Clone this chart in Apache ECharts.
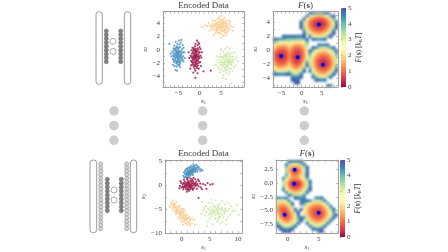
<!DOCTYPE html>
<html><head><meta charset="utf-8">
<style>html,body{margin:0;padding:0;background:#fff}#c{width:448px;height:252px;filter:blur(0.4px)}</style>
<script src="https://cdn.jsdelivr.net/npm/echarts@6/dist/echarts.min.js"></script>
</head><body><div id="c"></div>
<script>
const topBlue=[[-5.2,-0.9],[-5.0,-0.6],[-5.5,-1.2],[-4.8,-1.1],[-5.3,-0.4],[-5.7,-0.8],[-4.6,-0.7],[-5.1,-1.5],[-5.4,-0.1],[-4.9,-0.2],[-6.0,-1.1],[-4.4,-1.2],[-5.6,-1.7],[-5.0,-1.9],[-4.5,-0.3],[-6.1,-0.5],[-5.8,0.1],[-4.9,0.3],[-5.3,0.5],[-4.3,-1.6],[-6.3,-1.4],[-5.5,-2.1],[-4.7,-2.2],[-6.0,-1.9],[-4.2,-0.6],[-6.4,-0.3],[-5.2,0.9],[-4.7,0.8],[-5.9,0.6],[-4.1,0.1],[-3.9,-1.0],[-6.6,-1.0],[-5.4,-2.6],[-4.6,-2.7],[-5.7,-3.1],[-6.3,-2.3],[-3.8,-1.8],[-4.4,1.1],[-5.6,1.2],[-4.0,0.7],[-5.1,-1.1],[-5.3,-0.7],[-4.9,-0.9],[-5.6,-0.3],[-4.7,-1.4],[-5.2,-1.3],[-5.8,-1.5],[-4.4,-0.9],[-5.4,-1.8],[-6.2,-0.9],[-4.1,-1.3],[-3.6,-0.4],[-3.5,-1.3],[-6.8,-0.6],[-4.8,-2.4],[-5.1,-2.3],[-5.9,-2.5],[-5.0,0.1],[-5.5,0.3],[-6.1,0.2],[-4.6,0.4],[-3.8,0.3],[-4.3,1.5],[-4.9,1.4],[-7.1,0.9],[-5.3,-3.2],[-5.0,-0.3],[-5.4,-1.0],[-4.6,-1.8],[-6.0,-0.1],[-5.1,-0.5],[-4.8,-0.4],[-5.5,-0.6],[-4.5,-1.0],[-5.9,-0.7],[-5.2,-1.7],[-4.9,-1.6],[-5.7,-1.2],[-4.3,-0.2],[-5.6,0.0],[-5.1,0.3],[-4.6,-2.0],[-5.3,-2.0],[-6.1,-1.6],[-3.9,-0.4],[-4.0,-1.6]];
const topRed=[[-1.0,-1.2],[-0.8,-0.9],[-1.3,-1.5],[-0.7,-1.4],[-1.1,-0.7],[-1.5,-1.0],[-0.5,-1.1],[-0.9,-1.8],[-1.2,-0.3],[-0.7,-0.4],[-1.7,-1.3],[-0.3,-0.7],[-1.4,-2.0],[-0.8,-2.2],[-0.4,-1.7],[-1.8,-0.6],[-1.5,-0.1],[-0.9,0.1],[-0.5,0.2],[-0.1,-1.3],[-2.0,-1.7],[-1.1,-2.5],[-0.4,-2.4],[-1.7,-2.3],[0.0,-0.4],[-2.1,-0.9],[-1.1,0.5],[-0.5,0.7],[-1.7,0.3],[0.1,-1.9],[0.2,-0.9],[-2.4,-1.3],[-1.2,-2.9],[-0.6,-2.8],[-1.0,-3.2],[-2.0,-2.4],[0.4,-1.2],[-0.3,1.1],[-1.0,0.9],[0.2,0.1],[-1.1,-1.4],[-1.0,-0.9],[-0.6,-1.0],[-1.3,-0.6],[-0.8,-1.6],[-1.2,-1.1],[-1.6,-1.6],[-0.4,-1.0],[-1.0,-2.0],[-1.9,-1.1],[-0.2,-2.0],[0.0,0.4],[0.5,-0.4],[-2.6,-0.4],[-0.7,-2.6],[-1.4,-2.6],[-0.2,-2.9],[-0.9,-0.2],[-1.4,0.2],[-1.9,-0.1],[-0.3,0.0],[-0.6,1.4],[-0.1,0.9],[0.3,-2.5],[-1.5,-3.5],[2.6,-3.2],[0.9,-3.3],[-1.0,-4.3],[-0.5,-3.6],[-2.2,-2.9],[-0.9,-1.1],[-1.1,-1.0],[-0.7,-0.7],[-1.4,-0.9],[-0.6,-1.7],[-1.2,-1.8],[-1.5,-1.3],[-0.3,-1.4],[-0.9,-0.5],[-1.6,-0.4],[-0.2,-0.4],[-1.0,-2.4],[-0.6,-2.1],[-1.6,-2.0],[-1.3,-2.3],[-0.1,-1.0],[-1.0,-0.1],[-1.3,0.0],[-0.6,-0.2],[-1.8,-1.9]];
const topOrange=[[5.0,3.6],[5.3,3.8],[4.6,3.4],[5.6,3.4],[4.3,3.8],[4.9,4.0],[5.9,3.7],[4.0,3.3],[5.2,3.1],[5.7,4.1],[3.7,3.6],[6.2,3.3],[4.4,4.3],[5.0,4.5],[6.3,3.9],[3.5,3.9],[4.1,2.9],[5.5,2.8],[6.6,3.5],[3.2,3.4],[4.7,2.6],[6.0,2.9],[3.0,3.9],[6.9,3.9],[5.4,4.6],[4.2,4.7],[6.2,4.4],[3.6,4.4],[7.1,3.2],[2.8,3.1],[5.0,2.4],[3.7,2.6],[6.4,2.6],[2.5,3.7],[7.4,3.6],[4.6,5.0],[5.8,4.9],[3.4,2.2],[5.5,2.1],[1.8,3.6],[7.7,2.9],[1.2,3.7],[0.5,3.5],[6.8,4.5],[5.1,3.4],[4.8,3.2],[5.4,3.5],[4.5,3.7],[5.8,3.2],[4.2,3.4],[6.1,3.6],[3.9,3.0],[4.7,4.2],[5.6,4.3],[6.5,3.1],[3.4,3.1],[2.3,2.9],[2.1,4.1],[4.9,1.9],[6.1,2.2],[7.1,4.3],[3.0,4.5],[5.1,5.2],[3.9,4.0],[5.2,4.0],[4.4,2.5],[6.7,2.9],[7.9,3.5],[4.7,3.8],[5.5,3.9],[4.4,3.1],[5.1,2.9],[3.8,3.7],[5.8,3.0],[6.4,3.6],[4.1,4.1],[5.3,4.3],[3.3,3.7],[2.7,3.5],[5.9,2.6],[4.8,4.6],[6.0,4.1],[4.3,2.6]];
const topGreen=[[6.3,-1.9],[6.6,-1.6],[5.9,-2.2],[6.9,-2.1],[5.7,-1.5],[6.2,-1.2],[7.2,-1.6],[5.4,-2.0],[6.5,-2.5],[7.1,-1.0],[5.1,-1.6],[7.5,-2.3],[5.8,-0.8],[6.4,-0.6],[7.6,-1.2],[4.9,-1.2],[5.4,-2.7],[6.8,-2.9],[7.9,-1.9],[4.6,-2.0],[6.0,-3.1],[7.3,-2.9],[4.4,-1.5],[8.2,-1.5],[6.8,-0.4],[5.5,-0.3],[7.6,-0.5],[4.9,-0.7],[8.4,-2.4],[4.2,-2.6],[6.3,-3.5],[5.0,-3.0],[7.7,-3.3],[3.9,-1.8],[8.7,-1.2],[6.0,0.1],[7.1,0.2],[4.7,-3.5],[6.8,-3.8],[5.6,-3.9],[6.3,-1.5],[6.0,-1.8],[6.7,-2.3],[5.6,-2.4],[7.0,-1.3],[5.3,-1.1],[7.4,-1.9],[4.9,-2.4],[6.5,-1.0],[5.9,-1.0],[8.0,-2.7],[4.1,-1.0],[3.7,-2.3],[8.9,-1.8],[6.1,-4.5],[7.3,-5.2],[5.4,-4.3],[8.2,-0.4],[6.4,0.4],[5.0,0.0],[7.9,-1.0],[6.2,-2.7],[7.0,-3.4],[5.6,-3.3],[4.5,-2.9],[6.9,-1.9],[5.2,-2.3],[6.4,-3.1],[6.1,-2.4],[6.6,-2.0],[5.7,-1.9],[5.5,-1.2],[7.3,-2.2],[6.2,-0.8],[7.0,-0.7],[5.0,-1.9],[5.9,-2.8],[7.7,-1.6],[6.8,-1.7],[4.7,-1.1]];

const botBlue=[[1.5,2.8],[1.7,3.0],[1.2,2.5],[1.9,2.9],[1.3,2.9],[1.6,2.4],[2.0,3.3],[1.0,2.2],[1.4,3.3],[2.2,3.1],[0.9,2.6],[1.1,3.0],[1.8,3.5],[2.4,3.5],[0.8,2.0],[1.7,2.2],[2.1,2.7],[0.6,2.3],[2.5,3.0],[1.5,3.7],[2.0,3.9],[0.7,1.7],[1.2,1.9],[2.7,3.6],[2.9,3.2],[0.4,2.6],[2.3,4.0],[1.0,3.4],[0.5,1.6],[1.5,2.0],[2.8,3.9],[3.2,3.4],[0.9,1.5],[1.7,4.0],[3.5,3.2],[0.3,1.9],[1.4,2.7],[1.6,3.2],[1.8,2.7],[1.1,2.7],[2.2,3.7],[2.4,2.7],[1.3,2.2],[1.9,3.2],[0.7,2.9],[2.6,3.3],[3.0,3.7],[1.9,2.4],[2.3,3.3],[1.4,1.6],[3.7,3.0],[2.6,4.2],[2.1,4.3],[1.2,3.6],[0.6,3.0],[3.3,2.9],[2.0,2.1],[1.1,1.6],[0.8,3.3],[2.8,2.8],[1.6,2.6],[1.4,2.4],[1.8,3.1],[2.1,3.5],[1.0,2.5],[1.2,2.2],[2.0,3.0],[1.5,3.0],[0.9,2.3],[2.3,3.0]];
const botRed=[[1.3,0.0],[1.1,0.3],[1.6,-0.2],[0.9,-0.2],[1.8,0.3],[1.4,0.5],[0.7,0.2],[2.1,0.0],[1.0,-0.6],[1.7,-0.6],[0.5,-0.3],[2.3,0.4],[1.2,0.8],[0.6,0.7],[2.0,0.8],[0.2,0.1],[2.5,-0.2],[1.5,-0.9],[0.8,-0.9],[2.2,-0.6],[0.0,-0.5],[2.8,0.2],[1.9,1.1],[1.0,1.1],[-0.1,0.4],[2.6,0.7],[0.3,-0.9],[1.3,-1.2],[2.0,-1.0],[3.0,-0.3],[-0.3,-0.2],[0.4,1.1],[2.4,1.2],[1.6,1.3],[3.3,0.3],[-0.4,-0.7],[0.9,-1.4],[2.7,-0.8],[3.4,-0.5],[3.8,0.2],[4.2,0.0],[4.6,0.4],[5.1,0.1],[5.5,0.2],[3.1,0.8],[3.6,-0.9],[3.0,-2.7],[1.4,0.2],[1.2,-0.3],[0.8,0.1],[1.6,0.1],[1.9,-0.3],[0.6,-0.1],[1.1,0.6],[2.2,0.2],[1.5,-0.5],[0.3,0.4],[2.5,0.3],[1.7,0.7],[0.4,-0.5],[1.0,1.4],[-0.2,0.8],[2.9,1.1],[4.4,-0.8],[2.1,1.5],[1.0,0.0],[1.3,0.3],[0.7,-0.5],[1.8,-0.1],[1.4,-0.4],[0.9,0.4],[2.0,0.4],[1.2,-0.8],[0.5,0.3],[2.4,-0.1],[1.6,0.9],[0.2,-0.4],[2.7,0.0],[1.9,-0.8],[1.1,-1.0]];
const botOrange=[[0.0,-6.0],[-0.3,-5.6],[0.3,-6.4],[-0.5,-5.9],[0.4,-5.8],[-0.1,-6.6],[-0.7,-5.2],[0.7,-6.7],[-0.2,-5.1],[0.2,-7.0],[-1.0,-5.0],[0.9,-6.2],[-0.8,-5.8],[0.8,-7.3],[-1.2,-4.7],[-0.4,-6.5],[0.5,-5.3],[1.2,-7.0],[-1.4,-5.3],[1.1,-7.7],[-1.5,-4.3],[-0.9,-4.5],[0.1,-4.9],[0.4,-7.6],[1.4,-6.6],[-1.7,-4.9],[-0.6,-6.9],[1.5,-7.5],[-1.9,-4.1],[-1.2,-3.9],[-0.4,-4.3],[1.8,-8.0],[-1.8,-3.6],[0.9,-8.2],[1.5,-8.4],[-2.1,-4.6],[-1.0,-6.1],[2.2,-7.3],[0.0,-7.6],[-1.5,-3.2],[-0.1,-5.6],[0.1,-6.1],[-0.4,-5.4],[0.6,-6.3],[-0.8,-5.4],[0.5,-7.0],[-1.1,-5.6],[1.0,-6.8],[-0.6,-4.8],[-0.2,-6.2],[1.3,-8.0],[-1.6,-3.9],[0.3,-5.0],[-1.3,-4.2],[1.9,-7.0],[2.4,-8.2],[0.7,-7.9],[-0.2,-7.2],[0.2,-8.3],[-0.9,-3.5],[0.2,-5.6],[-0.3,-6.1],[0.6,-7.2],[-0.9,-5.2],[0.9,-7.0],[-0.5,-4.6],[0.0,-6.9],[1.6,-7.1],[-1.4,-4.6],[0.3,-6.7]];
const botGreen=[[6.2,-5.5],[6.5,-5.2],[5.8,-5.8],[6.9,-5.7],[5.6,-5.1],[6.1,-4.8],[7.2,-5.2],[5.3,-5.6],[6.4,-6.1],[7.1,-4.7],[5.0,-5.2],[7.6,-5.9],[5.7,-4.4],[6.4,-4.2],[7.7,-4.9],[4.7,-4.9],[5.3,-6.4],[6.8,-6.6],[8.0,-5.4],[4.4,-5.6],[6.0,-7.0],[7.4,-6.7],[4.3,-4.4],[8.4,-5.0],[6.8,-3.9],[5.4,-3.8],[7.7,-4.0],[4.8,-3.7],[8.6,-6.2],[4.1,-6.4],[6.3,-7.5],[5.0,-7.0],[7.9,-7.2],[3.8,-5.3],[9.0,-5.5],[6.0,-3.2],[7.2,-3.3],[4.6,-7.6],[6.9,-8.0],[5.5,-8.2],[6.2,-5.1],[5.9,-5.4],[6.7,-6.0],[5.5,-6.0],[7.0,-5.0],[5.2,-4.7],[7.5,-5.5],[4.8,-6.1],[6.5,-4.5],[5.9,-4.5],[8.2,-6.7],[4.0,-4.8],[3.5,-6.0],[9.4,-5.3],[8.8,-4.4],[9.8,-4.2],[6.5,-7.0],[3.6,-3.5],[8.3,-3.8],[5.3,-3.1],[7.9,-8.2],[10.1,-6.2],[7.2,-7.6],[4.5,-8.5],[6.0,-6.2],[6.7,-4.9],[5.5,-5.4],[7.2,-6.2],[6.4,-5.7],[5.1,-5.9],[7.8,-5.2],[6.6,-6.6]];

const o=99;
const fTopRows=[
[o,o,o,o,o,o,o,o,o,o,o,o,48,45,43,42,43,46,49,o,o,o],
[o,o,o,o,o,o,o,o,o,o,o,48,38,30,25,23,24,28,35,44,50,o],
[o,o,o,o,o,o,o,o,o,o,49,35,24,17,12,10,11,15,22,31,43,o],
[o,o,o,o,o,o,o,o,o,49,39,27,16,9,5,3,4,8,15,25,37,49],
[o,o,o,o,o,o,o,o,o,50,38,26,15,8,3,1,2,6,13,23,35,48],
[o,o,o,o,o,o,o,o,o,50,40,28,18,11,7,5,6,10,17,27,39,50],
[o,o,o,o,o,o,o,o,o,o,44,33,23,17,13,11,12,16,23,33,45,o],
[o,o,o,o,o,o,o,o,o,o,49,40,31,25,21,20,21,25,32,41,50,o],
[o,o,o,49,48,48,48,48,48,48,49,o,47,36,32,31,32,36,42,50,o,o],
[49,47,45,44,43,42,42,42,41,41,43,47,o,48,45,44,45,48,o,o,o,o],
[42,38,35,34,35,37,35,32,31,32,35,43,o,o,o,o,o,o,o,o,o,o],
[34,28,25,24,26,30,26,22,21,23,28,39,o,o,o,49,47,47,49,o,o,o],
[26,19,16,15,18,24,19,14,13,16,23,36,o,50,46,41,38,38,40,44,49,o],
[19,12,9,8,12,20,14,9,8,11,19,33,49,42,35,30,27,27,30,35,41,49],
[14,7,4,4,9,17,11,6,4,9,18,32,44,35,27,21,18,18,21,27,34,44],
[13,6,2,3,8,17,10,4,2,8,18,33,40,30,21,15,12,12,15,21,29,40],
[14,8,5,5,10,18,11,5,3,9,21,37,37,27,17,10,7,7,11,17,26,38],
[18,12,9,10,14,22,14,8,7,13,27,43,37,25,15,7,4,3,7,14,24,37],
[24,18,15,16,20,27,19,13,13,20,34,50,38,26,16,8,4,3,8,15,26,40],
[31,26,23,24,28,33,25,20,21,29,42,o,42,29,19,12,8,8,12,20,31,46],
[40,35,33,34,37,40,33,29,31,38,49,o,47,35,25,18,14,14,19,28,40,50],
[49,46,45,45,48,49,41,38,40,46,o,o,o,42,33,26,23,23,28,38,49,o],
[o,o,o,o,o,o,47,45,46,50,o,o,o,48,42,37,33,34,40,49,o,o],
[o,o,o,o,o,o,50,49,49,o,o,o,o,o,49,47,45,47,o,o,o,o],
[o,o,o,o,o,o,o,50,50,o,o,o,o,o,o,o,o,o,o,o,o,o],
[o,o,o,o,o,o,o,o,o,o,o,o,o,o,o,o,o,o,47,46,o,o]];
const fBotRows=[
[o,o,o,o,48,47,46,47,49,o,o,o,o,o,o,o,o,o,o,o,o],
[o,o,o,47,40,36,35,37,41,47,o,o,o,o,o,o,o,o,o,o,o],
[o,o,o,42,28,20,18,21,29,39,49,o,o,o,o,o,o,o,o,o,o],
[o,o,o,39,22,10,6,11,22,34,47,o,o,o,o,o,o,o,o,o,o],
[o,o,o,41,24,13,9,13,24,36,49,o,o,o,o,o,o,o,o,o,o],
[o,o,o,43,29,20,16,20,29,38,49,o,o,o,o,o,o,o,o,o,o],
[o,o,46,37,27,20,18,21,27,35,44,o,o,o,o,o,o,o,o,o,o],
[o,o,40,30,18,10,8,10,17,27,37,47,o,o,o,o,o,o,o,o,o],
[o,o,38,26,13,3,1,3,11,22,33,45,o,o,o,o,o,o,o,o,o],
[o,o,41,29,17,8,5,7,15,25,36,47,o,o,o,o,o,o,o,o,o],
[o,o,47,35,25,17,14,16,22,31,41,50,o,o,o,o,o,o,o,o,o],
[o,o,o,45,36,28,25,27,31,37,46,o,o,o,o,o,o,o,o,o,o],
[o,o,o,o,48,42,39,39,39,44,o,o,o,o,o,o,o,o,o,o,o],
[47,44,44,47,o,o,50,47,45,47,o,o,o,46,46,49,o,o,o,o,o],
[36,31,33,38,46,o,o,o,47,48,50,45,39,37,37,40,47,o,o,o,o],
[28,23,23,29,37,49,o,o,48,44,38,32,27,24,24,28,35,44,o,o,o],
[23,17,15,20,28,41,o,o,o,39,30,23,18,15,15,19,26,35,46,o,o],
[21,13,10,14,22,33,47,o,50,35,25,18,13,10,9,13,20,29,39,49,o],
[23,14,7,9,17,27,41,50,o,35,24,16,10,6,5,9,16,25,35,44,o],
[26,16,8,7,14,23,35,47,o,38,26,17,11,7,6,9,16,25,34,43,50],
[31,21,13,10,14,22,32,43,49,44,31,22,15,11,10,13,20,29,39,48,o],
[37,28,20,16,19,25,33,41,50,o,38,29,22,18,17,20,27,37,47,o,o],
[44,36,29,25,27,32,38,46,o,o,47,37,30,26,26,30,36,46,o,o,o],
[50,44,38,35,36,41,47,o,o,o,o,46,40,36,36,40,47,o,o,o,o],
[o,50,46,44,45,50,o,o,o,o,o,o,49,46,45,48,o,o,o,o,o],
[o,o,49,50,50,o,o,o,o,o,o,o,o,o,49,50,o,o,o,o,o]];
const minimaTop=[[-5.1,-0.87],[-1.0,-1.05],[5.26,-2.1],[4.27,3.63]];
const minimaBot=[[1.13,2.5],[1.03,-0.07],[-0.48,-5.8],[5.0,-5.4]];

const spectral=['#9e0142','#d53e4f','#f46d43','#fdae61','#fee08b','#ffffbf','#e6f598','#abdda4','#66c2a5','#3288bd','#5e4fa2'];
const heatColors=['#b0153f','#cf3a4c','#e65644','#f47a4a','#fb9c56','#fdc775','#fee695','#f4f9a8','#a8dca4','#3f8fb8','#3c5ca8'];
const clusterColors={blue:'#4a90c2',red:'#9e1b50',orange:'#fcc98c',green:'#cbe7a3'};

const ticksAx=[-8,-7,-6,-5,-4,-3,-2,-1,0,1,2,3,4,5,6,7,8,9,10], ticksAy=[-5,-4,-3,-2,-1,0,1,2,3,4,5];
const labelsAx=[-5,0,5], labelsAy=[-4,-2,0,2,4];
const ticksBx=[-7,-6,-5,-4,-3,-2,-1,0,1,2,3,4,5,6,7,8], ticksBy=[-5,-4,-3,-2,-1,0,1,2,3,4,5];
const labelsBx=[-5,0,5], labelsBy=[-4,-2,0,2,4];
const ticksCx=[-2,-1,0,1,2,3,4,5,6,7,8,9,10], ticksCy=[-10,-7.5,-5,-2.5,0,2.5,5];
const labelsCx=[0,5,10], labelsCy=[-10,-5,0,5];
const ticksDx=[-1,0,1,2,3,4,5,6,7,8], ticksDy=[-7.5,-5,-2.5,0,2.5];
const labelsDx=[0,5], labelsDy=[-7.5,-5,-2.5,0,2.5];
const cbarTicks=[0,1,2,3,4,5];

const grayDots=[[114,111],[114,125.7],[114,140.3],[202.7,111],[202.7,125.7],[202.7,140.3],[304.3,111],[304.3,125.7],[304.3,140.3]];
const pills=[[96,11.7,102.3,84.3],[124.3,11.7,130.7,84.3],[90,160,96.7,232.7],[130.3,160,136.7,232.7]];
const openNodes=[[113,41.3],[113,51.3],[114,190],[114,200]];
const layerDark=[[106.3,31,61.7,9],[120.7,31,61.7,9],[107.3,179.3,210.7,9],[121.3,179.3,210.7,9]];
const layerLight=[[100.7,164,228.7,19],[126.7,164,228.7,19]];

function layerNodes(ls){const r=[];ls.forEach(l=>{for(let i=0;i<l[3];i++)r.push([l[0],l[1]+(l[2]-l[1])*i/(l[3]-1)]);});return r;}
const FONT='"Liberation Serif","DejaVu Serif",serif', TXT='#3a3a3a', FR='#a0a0a0';
const nameRich={i:{fontFamily:FONT,fontStyle:'italic',fontSize:7,color:TXT},sub:{fontFamily:FONT,fontSize:4.5,color:TXT,verticalAlign:'bottom'},
 n:{fontFamily:FONT,fontSize:9,color:TXT},fi:{fontFamily:FONT,fontStyle:'italic',fontSize:9,color:TXT},b:{fontFamily:FONT,fontWeight:'bold',fontSize:9,color:TXT},
 n2:{fontFamily:FONT,fontSize:7.5,color:TXT},fi2:{fontFamily:FONT,fontStyle:'italic',fontSize:7.5,color:TXT},b2:{fontFamily:FONT,fontWeight:'bold',fontSize:7.5,color:TXT}};
const fmtInt=v=>String(v).replace('-','−'), fmtDec=v=>Number(v).toFixed(1).replace('-','−');

const TOP=1;
const grids=[],xAxes=[],yAxes=[],series=[],vms=[];
function panel(r,xr,yr,xt,xl,yt,yl,fmtY,xName,yName,xGap,yGap,title){
 const g=grids.length;
 grids.push({left:r[0],top:r[1],width:r[2],height:r[3],show:false});
 const base={zlevel:TOP,gridIndex:g,type:'value',splitLine:{show:false},
  axisLine:{show:true,onZero:false,lineStyle:{color:FR,width:1}}};
 const ticks=v=>({show:true,inside:true,length:2,lineStyle:{color:FR,width:.7},customValues:v});
 const lab=(v,f)=>({show:true,customValues:v,formatter:f,fontFamily:FONT,fontSize:7,color:TXT,margin:3});
 const xi=xAxes.length, yi=yAxes.length;
 xAxes.push({...base,min:xr[0],max:xr[1],position:'bottom',axisTick:ticks(xt),axisLabel:lab(xl,fmtInt),
   name:xName,nameLocation:'middle',nameGap:xGap,nameTextStyle:{rich:nameRich}});
 xAxes.push({...base,min:xr[0],max:xr[1],position:'top',axisTick:ticks(xt),axisLabel:{show:false},
   name:title,nameLocation:'middle',nameGap:1.5,nameTextStyle:{rich:nameRich,fontFamily:FONT,fontSize:9,color:TXT}});
 yAxes.push({...base,min:yr[0],max:yr[1],position:'left',axisTick:ticks(yt),axisLabel:lab(yl,fmtY),
   name:yName,nameLocation:'middle',nameGap:yGap,nameTextStyle:{rich:nameRich}});
 yAxes.push({...base,min:yr[0],max:yr[1],position:'right',axisTick:ticks(yt),axisLabel:{show:false}});
 return {g,xi,yi};
}
function cells(rows,xr,yr){const dx=(xr[1]-xr[0])/rows[0].length,dy=(yr[1]-yr[0])/rows.length,out=[];
 rows.forEach((row,j)=>row.forEach((v,i)=>{if(v<=50)out.push([xr[0]+(i+.5)*dx,yr[1]-(j+.5)*dy,v/10]);}));
 return {out,dx,dy};}
function heat(p,rows,xr,yr,minima){
 const c=cells(rows,xr,yr), si=series.length;
 series.push({type:'custom',zlevel:0,xAxisIndex:p.xi,yAxisIndex:p.yi,data:c.out,clip:true,encode:{x:0,y:1},silent:true,
  renderItem:(pr,api)=>{const a=api.coord([api.value(0)-c.dx/2,api.value(1)+c.dy/2]),b=api.coord([api.value(0)+c.dx/2,api.value(1)-c.dy/2]);
   return {type:'rect',shape:{x:a[0],y:a[1],width:b[0]-a[0]+.5,height:b[1]-a[1]+.5},style:{fill:api.visual('color')}};}});
 vms.push({show:false,type:'continuous',seriesIndex:si,dimension:2,min:0,max:5,inRange:{color:heatColors}});
 series.push({type:'scatter',zlevel:TOP,xAxisIndex:p.xi,yAxisIndex:p.yi,data:minima,symbolSize:4,itemStyle:{color:'#0000e8',opacity:1},z:5,silent:true});
}
function dots(p,pts,color){series.push({type:'scatter',zlevel:TOP,xAxisIndex:p.xi,yAxisIndex:p.yi,data:pts,symbolSize:2.2,itemStyle:{color,opacity:.85},silent:true});}
function cbar(r,name){
 const g=grids.length;
 grids.push({zlevel:TOP,left:r[0],top:r[1],width:r[2],height:r[3],show:true,borderWidth:0,
  backgroundColor:{type:'linear',x:0,y:1,x2:0,y2:0,colorStops:spectral.map((c,i)=>({offset:i/(spectral.length-1),color:c}))}});
 const xi=xAxes.length;
 xAxes.push({gridIndex:g,type:'value',min:0,max:1,show:false});
 yAxes.push({zlevel:TOP,gridIndex:g,type:'value',min:0,max:5,position:'right',splitLine:{show:false},axisLine:{show:false},
  axisTick:{show:true,length:1.5,lineStyle:{color:FR,width:.7},customValues:cbarTicks},
  axisLabel:{show:true,customValues:cbarTicks,fontFamily:FONT,fontSize:7,color:TXT,margin:2},
  name:name,nameLocation:'middle',nameRotate:90,nameGap:8,nameTextStyle:{rich:nameRich}});
 series.push({type:'scatter',zlevel:TOP,xAxisIndex:xi,yAxisIndex:yAxes.length-1,data:[],silent:true});
}
const S1='{i|s}{sub|1}',S2='{i|s}{sub|2}',FT='{fi|F}{n|(}{b|s}{n|)}',FL='{fi2|F}{n2|(}{b2|s}{n2|) [}{fi2|k}{sub|B}{fi2|T}{n2|]}';

const pA=panel([163,8,81,79],[-8.6,10.4],[-5.7,5.84],ticksAx,labelsAx,ticksAy,labelsAy,fmtInt,S1,S2,6,10,'Encoded Data');
dots(pA,topBlue,clusterColors.blue);dots(pA,topRed,clusterColors.red);dots(pA,topOrange,clusterColors.orange);dots(pA,topGreen,clusterColors.green);
const xrB=[-7.1,9],yrB=[-5.3,5.5];
const pB=panel([273,8,65,79],xrB,yrB,ticksBx,labelsBx,ticksBy,labelsBy,fmtInt,S1,S2,6,10,FT);
heat(pB,fTopRows,xrB,yrB,minimaTop);
cbar([341,8,5,79],FL);
const pC=panel([165,160,77,76],[-2.95,10.7],[-10,5.2],ticksCx,labelsCx,ticksCy,labelsCy,fmtInt,S1,S2,7,12,'Encoded Data');
dots(pC,botBlue,clusterColors.blue);dots(pC,botRed,clusterColors.red);dots(pC,botOrange,clusterColors.orange);dots(pC,botGreen,clusterColors.green);
const xrD=[-1.87,8.1],yrD=[-9.15,4.27];
const pD=panel([276,160,62,77],xrD,yrD,ticksDx,labelsDx,ticksDy,labelsDy,fmtDec,S1,S2,7,13,FT);
heat(pD,fBotRows,xrD,yrD,minimaBot);
cbar([340,160,5,77],FL);

const sg=grids.length;
grids.push({left:0,top:0,width:448,height:252,show:false});
const sx=xAxes.length, sy=yAxes.length;
xAxes.push({gridIndex:sg,type:'value',min:0,max:448,show:false});
yAxes.push({gridIndex:sg,type:'value',min:0,max:252,inverse:true,show:false});
const sch={zlevel:TOP,xAxisIndex:sx,yAxisIndex:sy,silent:true};
series.push({...sch,type:'custom',data:pills,encode:{x:[0,2],y:[1,3]},renderItem:(pr,api)=>{
  const a=api.coord([api.value(0),api.value(1)]),b=api.coord([api.value(2),api.value(3)]);
  return {type:'rect',shape:{x:a[0],y:a[1],width:b[0]-a[0],height:b[1]-a[1],r:3},style:{fill:'#fff',stroke:'#9a9a9a',lineWidth:1}};}});
series.push({...sch,type:'scatter',data:layerNodes(layerLight),symbolSize:4,itemStyle:{color:'#d4d4d4',borderColor:'#909090',borderWidth:.6,opacity:1}});
series.push({...sch,type:'scatter',data:layerNodes(layerDark),symbolSize:4.2,itemStyle:{color:'#808080',borderColor:'#6c6c6c',borderWidth:.5,opacity:1}});
series.push({...sch,type:'scatter',data:openNodes,symbolSize:6,itemStyle:{color:'#fff',borderColor:'#999',borderWidth:.8,opacity:1}});
series.push({...sch,type:'scatter',data:grayDots,symbolSize:9.5,itemStyle:{color:'#cdcdcd',opacity:1}});

const chart=echarts.init(document.getElementById('c'),null,{renderer:'canvas',width:448,height:252});
chart.setOption({animation:false,backgroundColor:'#fff',grid:grids,xAxis:xAxes,yAxis:yAxes,visualMap:vms,series:series});
const softenHeat=()=>{const cv=chart.getDom().querySelectorAll('canvas');if(cv.length>1)cv[0].style.filter='blur(1.1px)';};
softenHeat();chart.on('finished',softenHeat);
</script></body></html>
